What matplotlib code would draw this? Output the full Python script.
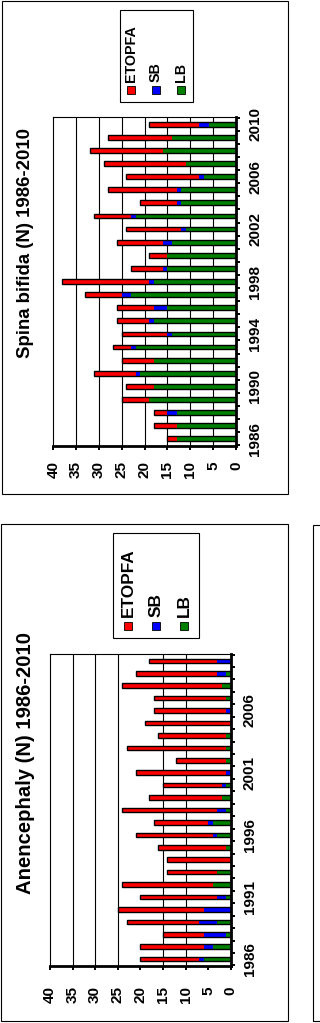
import matplotlib
matplotlib.use("Agg")
import matplotlib.pyplot as plt
import numpy as np
from matplotlib.patches import Rectangle

plt.rcParams["font.family"] = ["Liberation Sans", "DejaVu Sans"]

W, H = 320, 1023

years = list(range(1986, 2011))
series_names = ["ETOPFA", "SB", "LB"]
colors = {"ETOPFA": "#ff0000", "SB": "#0000ff", "LB": "#008000"}

# Spina bifida (N) 1986-2010
sb_title = "Spina bifida (N) 1986-2010"
sb_lb = [13, 13, 13, 19, 18, 21, 18, 22, 14, 18, 15, 23, 18, 15, 15, 14, 11, 22, 12, 12, 7, 11, 16, 14, 6]
sb_sb = [0, 0, 2, 0, 0, 1, 0, 1, 1, 1, 3, 2, 1, 1, 0, 2, 1, 1, 1, 1, 1, 0, 0, 0, 2]
sb_et = [2, 5, 3, 6, 6, 9, 7, 4, 10, 7, 8, 8, 19, 7, 4, 10, 12, 8, 8, 15, 16, 18, 16, 14, 11]
sb_year_labels = [1986, 1990, 1994, 1998, 2002, 2006, 2010]
sb_grid = [5, 10, 15, 20, 25, 30, 35]

# Anencephaly (N) 1986-2010
an_title = "Anencephaly (N) 1986-2010"
an_lb = [6, 4, 1, 3, 0, 1, 4, 3, 0, 1, 3, 4, 1, 2, 1, 0, 1, 1, 1, 0, 0, 1, 2, 1, 0]
an_sb = [1, 2, 5, 4, 6, 2, 0, 0, 0, 0, 1, 1, 2, 0, 1, 1, 0, 0, 0, 0, 1, 0, 0, 2, 3]
an_et = [13, 14, 9, 16, 19, 17, 20, 11, 14, 15, 17, 12, 21, 16, 13, 20, 11, 22, 15, 19, 16, 16, 22, 18, 15]
an_year_labels = [1986, 1991, 1996, 2001, 2006]
an_grid = [10, 15, 25, 30, 35]

value_ticks = list(range(0, 45, 5))


def fx(x):
    return x / W


def fy(y):
    return 1 - y / H


def frame(fig, x0, y0, x1, y1, lw=0.8):
    fig.add_artist(Rectangle((fx(x0), fy(y1)), (x1 - x0) / W, (y1 - y0) / H,
                             transform=fig.transFigure, fill=False,
                             edgecolor="black", linewidth=lw))


def legend(fig, box, xs, y_marker, y_text, size):
    x0, y0, x1, y1 = box
    frame(fig, x0, y0, x1, y1)
    for name, xc in zip(series_names, xs):
        fig.add_artist(Rectangle((fx(xc - 4), fy(y_marker + 4)), 8 / W, 8 / H,
                                 transform=fig.transFigure, facecolor=colors[name],
                                 edgecolor="black", linewidth=0.6))
        fig.text(fx(xc), fy(y_text), name, rotation=90, ha="center", va="bottom",
                 fontsize=size, fontweight="bold")


def chart(fig, rect, lb, sb, et, year_labels, grid, xpad, ypad):
    left, top, right, bottom = rect
    ax = fig.add_axes([fx(left), fy(bottom), (right - left) / W, (bottom - top) / H])
    y = np.arange(len(years))
    lb = np.array(lb)
    sb = np.array(sb)
    et = np.array(et)
    h = 0.37
    for v in grid:
        ax.axvline(v, color="black", linewidth=0.8, zorder=0)
    ax.barh(y, lb, height=h, color=colors["LB"], linewidth=0, zorder=2)
    ax.barh(y, sb, left=lb, height=h, color=colors["SB"], linewidth=0, zorder=2)
    ax.barh(y, et, left=lb + sb, height=h, color=colors["ETOPFA"], linewidth=0, zorder=2)
    ax.barh(y, lb + sb + et, height=h, fill=False, edgecolor="black", linewidth=1.0, zorder=3)

    ax.set_xlim(40, 0)
    ax.set_ylim(-0.55, len(years) - 0.45)
    ax.set_xticks(value_ticks)
    ax.set_xticklabels([str(v) for v in value_ticks], rotation=90, fontsize=11,
                       fontweight="bold", va="top")
    ax.tick_params(axis="x", direction="out", length=3, width=1.4, pad=xpad)

    ax.yaxis.tick_right()
    ax.set_yticks([years.index(yr) for yr in year_labels])
    ax.set_yticklabels([str(yr) for yr in year_labels], rotation=90, fontsize=11,
                       fontweight="bold", va="center")
    ax.set_yticks(np.arange(-0.5, len(years), 1), minor=True)
    ax.tick_params(axis="y", which="major", length=0, pad=ypad + 2.2)
    ax.tick_params(axis="y", which="minor", direction="out", length=3, width=1.4)

    ax.spines["right"].set_linewidth(2)
    ax.spines["bottom"].set_linewidth(2)
    ax.spines["top"].set_linewidth(0.8)
    ax.spines["left"].set_linewidth(0.8)
    return ax


fig = plt.figure(figsize=(W / 100, H / 100), dpi=100)

# top panel: spina bifida
frame(fig, 2, 0.5, 288, 494)
chart(fig, (53.3, 117, 236, 446), sb_lb, sb_sb, sb_et, sb_year_labels, sb_grid, 8, 6.5)
fig.text(fx(25.5), fy(243), sb_title, rotation=90, ha="center", va="center",
         fontsize=13.4, fontweight="bold")
legend(fig, (119.5, 10, 193, 102), [131, 156, 181], 90, 82, 10.3)

# bottom panel: anencephaly
frame(fig, 1, 524, 288, 1021)
chart(fig, (50, 654, 230.7, 966), an_lb, an_sb, an_et, an_year_labels, an_grid, 11.5, 6.5)
fig.text(fx(25.5), fy(763), an_title, rotation=90, ha="center", va="center",
         fontsize=14.6, fontweight="bold")
legend(fig, (113, 533, 199, 638), [128, 156, 184], 625.5, 617, 12.4)

# edge of the next panel on the right
frame(fig, 312.7, 525, 330, 1021)

fig.savefig("out.png", dpi=100)
